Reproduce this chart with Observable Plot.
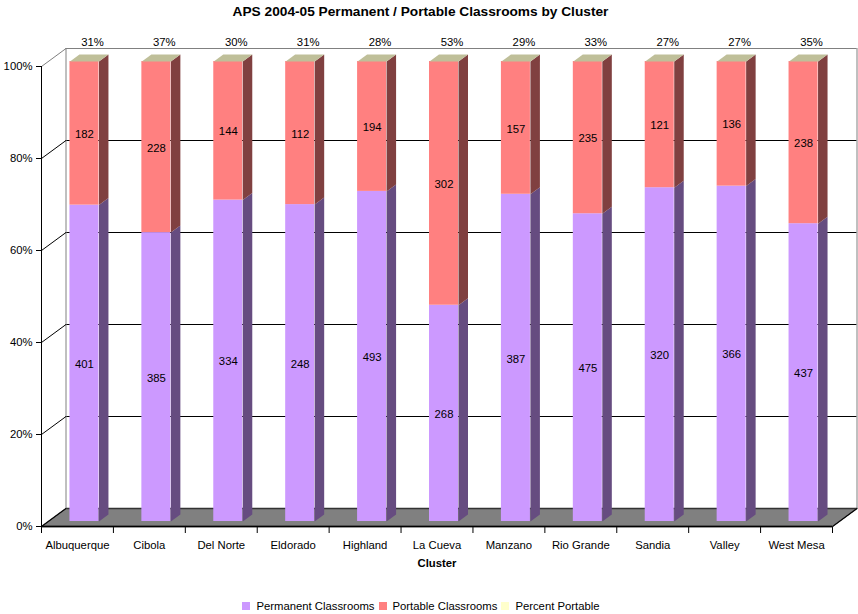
<!DOCTYPE html>
<html><head><meta charset="utf-8">
<script src="https://cdn.jsdelivr.net/npm/d3@7"></script>
<script src="https://cdn.jsdelivr.net/npm/@observablehq/plot@0.6"></script>
<style>
body{margin:0;background:#fff;font-family:"Liberation Sans",Arial,sans-serif;color:#000;}
#wrap{position:relative;width:858px;height:614px;}
#title{position:absolute;top:4px;left:0;width:841px;text-align:center;font-weight:bold;font-size:13.7px;line-height:16px;}
#legend{margin-top:4px;height:20px;line-height:20px;display:flex;justify-content:center;align-items:center;padding-right:16px;font-size:11.3px;}
#legend .it{display:flex;align-items:center;margin:0 2px;}
#legend .sw{width:8px;height:8px;margin-right:6px;}
</style></head><body>
<div id="wrap"><div id="title">APS 2004-05 Permanent / Portable Classrooms by Cluster</div><div id="chart"></div><div id="legend"></div></div>
<script>
const clusters = ["Albuquerque","Cibola","Del Norte","Eldorado","Highland","La Cueva","Manzano","Rio Grande","Sandia","Valley","West Mesa"];
const permanent = [401,385,334,248,493,268,387,475,320,366,437];
const portable = [182,228,144,112,194,302,157,235,121,136,238];
const percentPortable = [31,37,30,31,28,53,29,33,27,27,35];
const yTicks = [0,20,40,60,80,100];
const seriesNames = ["Permanent Classrooms","Portable Classrooms","Percent Portable"];
const seriesColors = ["#cc99ff","#ff8080","#ffffcc"];
const sideColors = ["#664c80","#804040"];
const topColor = "#bfbf99";

const W = 858, H = 592, mL = 41, mR = 26, mT = 66, mB = 66;
const kx = (W - mL - mR) / clusters.length, ky = (H - mT - mB) / 100;
const ux = p => p / kx, uy = p => p / ky;
const DX = 24.5, DY = 18;          // chart depth (px)
const OX = 7, OY = 5;              // bar front offset (px)
const BX = 9.5, BY = 7;            // bar depth (px)
const BW = 29;                     // bar width (px)

const segs = [];
clusters.forEach((c, i) => {
  const tot = permanent[i] + portable[i];
  const p = permanent[i] / tot * 100;
  const x1 = i + 0.5 - ux(BW / 2), x2 = i + 0.5 + ux(BW / 2);
  segs.push({i, s: 0, x1, x2, y1: 0, y2: p, value: permanent[i]});
  segs.push({i, s: 1, x1, x2, y1: p, y2: 100, value: portable[i]});
});
const sidePts = s => {
  const id = s.i * 2 + s.s;
  return [
    {id, x: s.x2, y: s.y1},
    {id, x: s.x2 + ux(BX), y: s.y1 + uy(BY)},
    {id, x: s.x2 + ux(BX), y: s.y2 + uy(BY)},
    {id, x: s.x2, y: s.y2}
  ];
};
const permSides = segs.filter(s => s.s === 0).flatMap(sidePts);
const portSides = segs.filter(s => s.s === 1).flatMap(sidePts);
const tops = segs.filter(s => s.s === 1).flatMap(s => [
  {id: s.i, x: s.x1, y: 100},
  {id: s.i, x: s.x2, y: 100},
  {id: s.i, x: s.x2 + ux(BX), y: 100 + uy(BY)},
  {id: s.i, x: s.x1 + ux(BX), y: 100 + uy(BY)}
]);
const n = clusters.length;
const floor = [
  {x: 0, y: 0}, {x: n, y: 0}, {x: n + ux(DX), y: uy(DY)}, {x: ux(DX), y: uy(DY)}
];

const barOpts = {dx: OX, dy: -OY};
const plot = Plot.plot({
  width: W, height: H,
  marginLeft: mL, marginRight: mR, marginTop: mT, marginBottom: mB,
  style: {fontFamily: "Liberation Sans, Arial, sans-serif", fontSize: "11.3px", background: "white", overflow: "visible", color: "black"},
  x: {type: "linear", domain: [0, n], ticks: d3.range(n + 1), tickFormat: () => "", tickSize: 7, label: null},
  y: {domain: [0, 100], ticks: yTicks, tickFormat: d => d + "%", tickSize: 5, tickPadding: 4, label: null},
  marks: [
    // back wall
    Plot.ruleY(yTicks.filter(t => t > 0 && t < 100), {x1: 0, x2: n, dx: DX, dy: -DY, stroke: "#000"}),
    Plot.ruleY([100], {x1: 0, x2: n, dx: DX, dy: -DY, stroke: "#808080"}),
    Plot.ruleX([0, n], {y1: 0, y2: 100, dx: DX, dy: -DY, stroke: "#808080"}),
    // floor
    Plot.line(floor, {x: "x", y: "y", curve: "linear-closed", fill: "#808080", stroke: "#333"}),
    // diagonals
    Plot.link(yTicks.filter(t => t < 100), {x1: 0, y1: d => d, x2: ux(DX), y2: d => d + uy(DY), stroke: "#000"}),
    Plot.link([100], {x1: 0, y1: d => d, x2: ux(DX), y2: d => d + uy(DY), stroke: "#808080"}),
    Plot.link([n], {x1: d => d, y1: 0, x2: d => d + ux(DX), y2: uy(DY), stroke: "#000"}),
    // bars
    Plot.rect(segs.filter(s => s.s === 0), {x1: "x1", x2: "x2", y1: "y1", y2: "y2", fill: seriesColors[0], ...barOpts}),
    Plot.rect(segs.filter(s => s.s === 1), {x1: "x1", x2: "x2", y1: "y1", y2: "y2", fill: seriesColors[1], ...barOpts}),
    Plot.line(permSides, {x: "x", y: "y", z: "id", curve: "linear-closed", fill: sideColors[0], stroke: "none", ...barOpts}),
    Plot.line(portSides, {x: "x", y: "y", z: "id", curve: "linear-closed", fill: sideColors[1], stroke: "none", ...barOpts}),
    Plot.line(tops, {x: "x", y: "y", z: "id", curve: "linear-closed", fill: topColor, stroke: "none", ...barOpts}),
    // axes lines
    Plot.ruleX([0], {y1: 0, y2: 100, stroke: "#000"}),
    Plot.ruleY([0], {x1: 0, x2: n, stroke: "#000", strokeWidth: 1.5}),
    // labels
    Plot.text(segs, {x: s => (s.x1 + s.x2) / 2, y: s => (s.y1 + s.y2) / 2, text: "value", dx: OX, dy: -OY + 1, fill: "#000"}),
    Plot.text(percentPortable, {x: (d, i) => i + 0.5, y: 100, text: d => d + "%", dx: 15, dy: -24, fill: "#000"}),
    Plot.text(clusters, {x: (d, i) => i + 0.5, y: 0, text: d => d, dy: 19, fill: "#000"}),
    Plot.text(["Cluster"], {x: n / 2, y: 0, text: d => d, dy: 37, fontWeight: "bold", fill: "#000"})
  ]
});
document.getElementById("chart").appendChild(plot);

const lg = document.getElementById("legend");
seriesNames.forEach((name, i) => {
  const it = document.createElement("div"); it.className = "it";
  const sw = document.createElement("div"); sw.className = "sw"; sw.style.background = seriesColors[i];
  const tx = document.createElement("span"); tx.textContent = name;
  it.appendChild(sw); it.appendChild(tx); lg.appendChild(it);
});
</script>
</body></html>
